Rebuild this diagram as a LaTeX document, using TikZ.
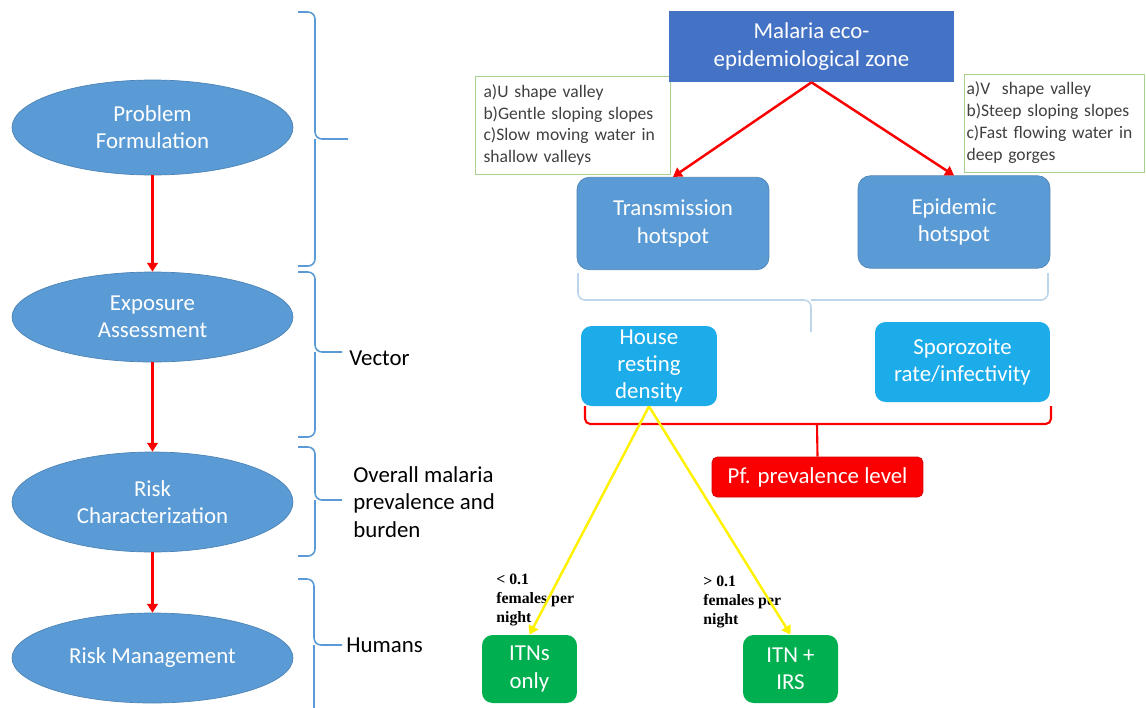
\documentclass[tikz,border=0pt]{standalone}
\usepackage{fontspec}
\setmainfont{Carlito}
\newfontfamily\labelfont{Liberation Serif}
\usepackage{xcolor}
\usetikzlibrary{shapes.geometric,arrows.meta}
\definecolor{stageblue}{RGB}{91,155,213}
\definecolor{zoneblue}{RGB}{68,114,196}
\definecolor{factorblue}{RGB}{28,172,234}
\definecolor{bracelight}{RGB}{190,214,236}
\definecolor{notegreen}{RGB}{169,209,142}
\definecolor{actiongreen}{RGB}{0,176,80}
\definecolor{prevred}{RGB}{250,0,0}
\definecolor{notegray}{RGB}{64,64,64}

\begin{document}
\begin{tikzpicture}[
  x=0.02cm, y=-0.02cm,
  stage/.style={ellipse, fill=stageblue, draw=stageblue!85!black, minimum width=5.62cm, minimum height=1.8cm, inner sep=0pt, align=center, text=white, font=\fontsize{13}{15.5}\selectfont},
  zone/.style={rectangle, fill=zoneblue, minimum width=5.7cm, minimum height=1.42cm, inner sep=0pt, align=center, text=white, font=\fontsize{13}{15.5}\selectfont},
  note/.style={rectangle, draw=notegreen, fill=white, minimum height=1.96cm, text width=3.56cm, inner xsep=0.17cm, inner ysep=0pt, align=left, text=notegray, font=\fontsize{10}{12.5}\selectfont},
  hotspot/.style={rectangle, rounded corners=7pt, fill=stageblue, draw=stageblue!85!black, minimum width=3.84cm, minimum height=1.85cm, inner sep=0pt, align=center, text=white, font=\fontsize{13}{15.5}\selectfont},
  factor/.style={rectangle, rounded corners=6pt, fill=factorblue, minimum height=1.6cm, inner sep=0pt, align=center, text=white, font=\fontsize{13}{15.5}\selectfont},
  prev/.style={rectangle, rounded corners=3pt, fill=prevred, draw=prevred!85!black, minimum width=4.22cm, minimum height=0.8cm, inner sep=0pt, align=center, text=white, font=\fontsize{13}{15.5}\selectfont},
  action/.style={rectangle, rounded corners=6pt, fill=actiongreen, minimum width=1.9cm, minimum height=1.36cm, inner sep=0pt, align=center, text=white, font=\fontsize{13}{15.5}\selectfont},
  side/.style={align=left, anchor=west, inner sep=0pt, font=\fontsize{13}{15.7}\selectfont},
  cut/.style={align=left, anchor=west, inner sep=0pt, font=\labelfont\bfseries\fontsize{9}{11}\selectfont},
  bracket/.style={draw=stageblue, line width=0.9pt, rounded corners=4pt},
  redarrow/.style={-{Triangle[width=6pt,length=5pt]}, line width=1.4pt, color=prevred},
  yellowarrow/.style={-{Triangle[width=6pt,length=5pt]}, line width=1.4pt, color=yellow}
]
  \useasboundingbox (0,0) rectangle (1146,707);

  % risk assessment steps
  \node[stage, minimum height=1.9cm] (problem) at (152.5,127.5) {Problem\\Formulation};
  \node[stage] (exposure) at (152.5,317) {Exposure\\Assessment};
  \node[stage, minimum height=2cm] (risk) at (152.5,502) {Risk\\Characterization};
  \node[stage] (manage) at (152.5,658) {Risk Management};

  \draw[redarrow] (problem) -- (exposure);
  \draw[redarrow] (exposure) -- (risk);
  \draw[redarrow] (risk) -- (manage);

  % brackets
  \draw[bracket] (298,12) -- (315,12) -- (315,139) -- (348,139);
  \draw[bracket] (315,139) -- (315,266) -- (298,266);
  \draw[bracket] (298,272) -- (315,272) -- (315,352) -- (342,352);
  \draw[bracket] (315,352) -- (315,437) -- (298,437);
  \draw[bracket] (298,447) -- (315,447) -- (315,500) -- (342,500);
  \draw[bracket] (315,500) -- (315,556) -- (298,556);
  \draw[bracket] (298,579) -- (314,579) -- (314,645) -- (342,645);
  \draw[bracket] (314,645) -- (314,712);

  \node[side] (vector) at (349,358) {Vector};
  \node[side] (overall) at (353,502) {Overall malaria\\prevalence and\\burden};
  \node[side] (humans) at (346,645) {Humans};

  % eco-epidemiological zones
  \node[note] (unote) at (572.5,125) {a)U shape valley\\b)Gentle sloping slopes\\c)Slow moving water in\\shallow valleys};
  \node[note, text width=3.5cm, inner xsep=0.05cm] (vnote) at (1054,123) {a)V\ \ shape valley\\b)Steep sloping slopes\\c)Fast flowing water in\\deep gorges};
  \node[zone] (eco) at (811.5,46.5) {Malaria eco-\\epidemiological zone};

  \node[hotspot] (trans) at (673,223.5) {Transmission\\hotspot};
  \node[hotspot] (epi) at (954,222) {Epidemic\\hotspot};

  \draw[redarrow] (eco.south) -- (trans.north);
  \draw[redarrow] (eco.south) -- (epi.north);

  \draw[draw=bracelight, line width=0.9pt, rounded corners=4pt] (578,273) -- (578,300) -- (811,300) -- (811,332);
  \draw[draw=bracelight, line width=0.9pt, rounded corners=4pt] (811,300) -- (1048,300) -- (1048,273);

  % vector indicators
  \node[factor, minimum width=2.72cm] (house) at (649,366) {House\\resting\\density};
  \node[factor, minimum width=3.5cm] (sporo) at (962.5,362) {Sporozoite\\rate/infectivity};

  \node[prev] (pf) at (817.5,477) {Pf. prevalence level};
  \draw[draw=prevred, line width=1.2pt, rounded corners=3pt] (585,406) -- (585,424) -- (1051,424) -- (1051,406);
  \draw[draw=prevred, line width=1.2pt] (817,424) -- (pf.north);

  % interventions
  \node[action] (itns) at (529.5,669) {ITNs\\only};
  \node[action] (itnirs) at (790.5,669) {ITN +\\IRS};

  \node[cut] (low) at (496,600) {< 0.1\\females per\\night};
  \node[cut] (high) at (703,602) {> 0.1\\females per\\night};

  \draw[yellowarrow] (house.south) -- (itns.north);
  \draw[yellowarrow] (house.south) -- (itnirs.north);
\end{tikzpicture}
\end{document}
